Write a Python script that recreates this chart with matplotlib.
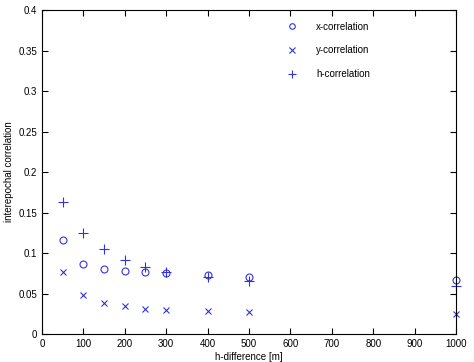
import matplotlib
matplotlib.use("Agg")
import matplotlib.pyplot as plt

h_diff = [50, 100, 150, 200, 250, 300, 400, 500, 1000]
x_corr = [0.116, 0.087, 0.080, 0.078, 0.076, 0.075, 0.073, 0.071, 0.067]
y_corr = [0.076, 0.048, 0.038, 0.034, 0.031, 0.030, 0.028, 0.027, 0.025]
h_corr = [0.163, 0.125, 0.105, 0.091, 0.083, 0.077, 0.071, 0.066, 0.059]

plt.rcParams['font.family'] = ['Liberation Sans', 'DejaVu Sans']
fig = plt.figure(figsize=(4.74, 3.62), dpi=100)
ax = fig.add_axes([0.0886, 0.0773, 0.8734, 0.8947])
col = '#3333dd'
ax.plot(h_diff, x_corr, 'o', mfc='none', mec=col, ms=5, mew=0.8, label='x-correlation', clip_on=False)
ax.plot(h_diff, y_corr, 'x', color=col, ms=5, mew=0.8, label='y-correlation', clip_on=False)
ax.plot(h_diff, h_corr, '+', color=col, ms=6.5, mew=0.8, label='h-correlation', clip_on=False)
ax.set_xlim(0, 1000)
ax.set_ylim(0, 0.4)
ax.set_xticks(range(0, 1001, 100))
ax.set_yticks([0, 0.05, 0.1, 0.15, 0.2, 0.25, 0.3, 0.35, 0.4])
ax.set_yticklabels(['0', '0.05', '0.1', '0.15', '0.2', '0.25', '0.3', '0.35', '0.4'])
ax.tick_params(direction='in', top=True, right=True, labelsize=7, length=4, width=0.8)
for s in ax.spines.values():
    s.set_linewidth(0.8)
ax.set_xlabel('h-difference [m]', fontsize=7, labelpad=2)
ax.set_ylabel('interepochal correlation', fontsize=7, labelpad=3)
leg = ax.legend(loc='upper right', frameon=False, fontsize=7, labelspacing=1.4,
                handletextpad=1.5, borderaxespad=0.8, bbox_to_anchor=(0.82, 1.0),
                markerscale=0.8)
fig.savefig('out.png', dpi=100)
